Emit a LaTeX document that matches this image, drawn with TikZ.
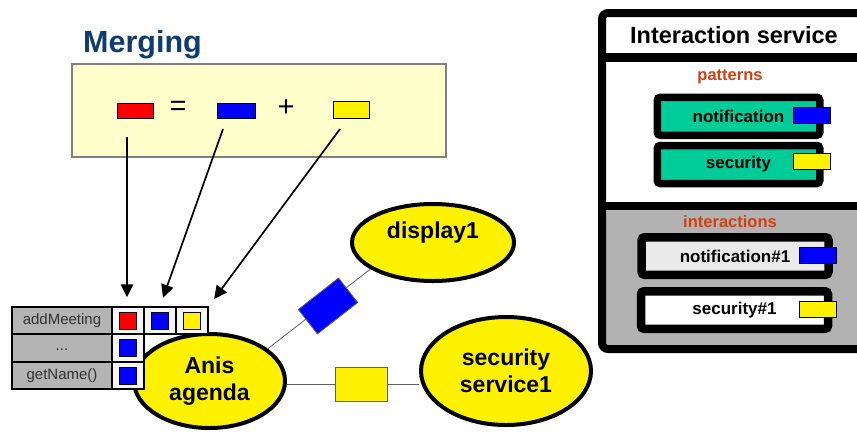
\documentclass[tikz,border=0pt]{standalone}
\usepackage{fontspec}
\setmainfont{Liberation Sans}
\usetikzlibrary{shapes.geometric,arrows.meta}

\definecolor{tealgreen}{RGB}{0,204,153}
\definecolor{panelgray}{RGB}{178,178,178}
\definecolor{tablegray}{RGB}{180,180,180}
\definecolor{celllight}{RGB}{245,245,245}
\definecolor{mergefill}{RGB}{255,255,204}
\definecolor{mergeborder}{RGB}{128,128,128}
\definecolor{headorange}{RGB}{208,64,16}
\definecolor{titleblue}{RGB}{14,59,112}
\definecolor{instfill}{RGB}{234,234,234}
\definecolor{linegray}{RGB}{96,96,96}
\definecolor{labelgray}{RGB}{50,50,50}

\begin{document}
\begin{tikzpicture}[x=1bp,y=-1bp,
  bubble/.style={ellipse, draw=black, line width=4bp, fill=yellow, inner sep=0pt,
    font=\fontsize{23bp}{27.5bp}\selectfont\bfseries, align=center},
  bubbletext/.style={font=\fontsize{23bp}{27.5bp}\selectfont\bfseries, inner sep=0pt},
  conn/.style={draw=linegray, line width=0.8bp},
  connbox/.style={draw=linegray, line width=0.8bp, inner sep=0pt},
  tag/.style={draw=black, line width=0.6bp, inner sep=0pt, minimum width=37bp, minimum height=16bp},
  swatch/.style={draw=black, line width=0.6bp, inner sep=0pt},
  patternbox/.style={draw=black, line width=7.5bp, rounded corners=3bp, fill=tealgreen,
    minimum width=162.5bp, minimum height=38bp, inner sep=0pt,
    font=\fontsize{17bp}{20bp}\selectfont\bfseries},
  instbox/.style={draw=black, line width=8.5bp, rounded corners=3bp,
    minimum width=187bp, minimum height=37.5bp, inner sep=0pt,
    font=\fontsize{17bp}{20bp}\selectfont\bfseries},
  heading/.style={text=headorange, font=\fontsize{16.5bp}{19bp}\selectfont\bfseries, inner sep=0pt},
  methodcell/.style={draw=black, line width=1.5bp, fill=tablegray, minimum width=100bp,
    inner sep=0pt, text=labelgray, font=\fontsize{15bp}{17bp}\selectfont},
  slotcell/.style={draw=black, line width=1.5bp, fill=celllight, minimum width=32bp, inner sep=0pt},
  slotmark/.style={draw=black, line width=0.6bp, minimum width=17bp, minimum height=17bp, inner sep=0pt},
  mergearrow/.style={draw=black, line width=1.7bp, -{Triangle[length=13bp,width=12.5bp]}, shorten >=9bp},
]
\useasboundingbox (0,0) rectangle (857,432);
\fill[white] (0,0) rectangle (857,432);
\clip (0,0) rectangle (857,432);

% ---------- Merging ----------
\node[anchor=base west, inner sep=0pt, text=titleblue,
      font=\fontsize{30.5bp}{33bp}\selectfont\bfseries] (mergetitle) at (83,52) {Merging};
\node[draw=mergeborder, fill=mergefill, line width=1.5bp, minimum width=374bp,
      minimum height=93bp, inner sep=0pt] (mergebox) at (259,110.5) {};
\node[swatch, fill=red,  minimum width=36bp, minimum height=15bp] (mred)  at (135,110.5) {};
\node[inner sep=0pt, font=\fontsize{29bp}{32bp}\selectfont] (meq) at (178,108) {=};
\node[swatch, fill=blue, minimum width=38bp, minimum height=15bp] (mblue) at (236,110.5) {};
\node[inner sep=0pt, font=\fontsize{29bp}{32bp}\selectfont] (mplus) at (286,108) {+};
\node[swatch, fill=yellow, minimum width=36bp, minimum height=17bp] (myellow) at (351,109.5) {};
\coordinate (m1) at (127,137);
\coordinate (m2) at (223,129);
\coordinate (m3) at (340,129);

% ---------- components ----------
\node[bubble, minimum width=151bp, minimum height=94bp] (anis) at (209.5,381) {Anis\\agenda};
\node[bubble, minimum width=162bp, minimum height=77bp,
      label={[bubbletext, yshift=10bp]center:display1}] (disp) at (433,242.5) {};
\node[bubble, minimum width=170bp, minimum height=108bp] (secsvc) at (506,371) {security\\service1};

% bindings between components
\draw[conn] (anis.29) -- (disp.203);
\node[connbox, fill=blue, minimum width=51bp, minimum height=31bp, rotate=38] (bconn) at (328,306) {};
\node[connbox, fill=yellow, minimum width=52bp, minimum height=34bp] (yconn) at (361,384) {};
\draw[conn] (anis.east |- yconn) -- (yconn.west);
\draw[conn] (yconn.east) -- (secsvc.west |- yconn);

% ---------- method table ----------
\node[methodcell, minimum height=27bp] (r1) at (62,320.5) {addMeeting};
\node[methodcell, minimum height=28bp] (r2) at (62,348) {\raisebox{-5bp}{...}};
\node[methodcell, minimum height=27bp] (r3) at (62,375.5) {getName()};
\node[slotcell, minimum height=27bp] (c11) at (128,320.5) {};
\node[slotcell, minimum height=27bp] (c12) at (160,320.5) {};
\node[slotcell, minimum height=27bp] (c13) at (192,320.5) {};
\node[slotcell, minimum height=28bp] (c21) at (128,348) {};
\node[slotcell, minimum height=27bp] (c31) at (128,375.5) {};
\node[slotmark, fill=red]    (s11) at (c11) {};
\node[slotmark, fill=blue]   (s12) at (c12) {};
\node[slotmark, fill=yellow] (s13) at (c13) {};
\node[slotmark, fill=blue]   (s21) at (c21) {};
\node[slotmark, fill=blue]   (s31) at (c31) {};

\draw[mergearrow] (m1) -- (m1 |- c11.north);
\draw[mergearrow] (m2) -- (c12.north);
\draw[mergearrow] (m3) -- (c13.north east);

% ---------- interaction service panel ----------
\fill[panelgray] (602,206) rectangle (880,349);
\draw[line width=8bp, rounded corners=6bp] (602,13) rectangle (880,349);
\draw[line width=9bp] (602,57.5) -- (880,57.5);
\draw[line width=8bp] (602,206) -- (880,206);
\node[inner sep=0pt, font=\fontsize{23.5bp}{26bp}\selectfont\bfseries] (svctitle) at (734,35) {Interaction service};

\node[heading] (pathead) at (730,77) {patterns};
\node[patternbox] (pnotif) at (738.5,116.25) {notification};
\node[patternbox] (psec)   at (738.5,164.5)  {security};
\node[tag, fill=blue]   (pnotiftag) at (811.5,115) {};
\node[tag, fill=yellow] (psectag)   at (811.5,161.5) {};

\node[heading] (inthead) at (730,222) {interactions};
\node[instbox, fill=instfill] (inotif) at (735,256)   {notification\#1};
\node[instbox, fill=white]    (isec)   at (734.5,310) {security\#1};
\node[tag, fill=blue]   (inotiftag) at (818,255) {};
\node[tag, fill=yellow] (isectag)   at (818,309.5) {};
\end{tikzpicture}
\end{document}
